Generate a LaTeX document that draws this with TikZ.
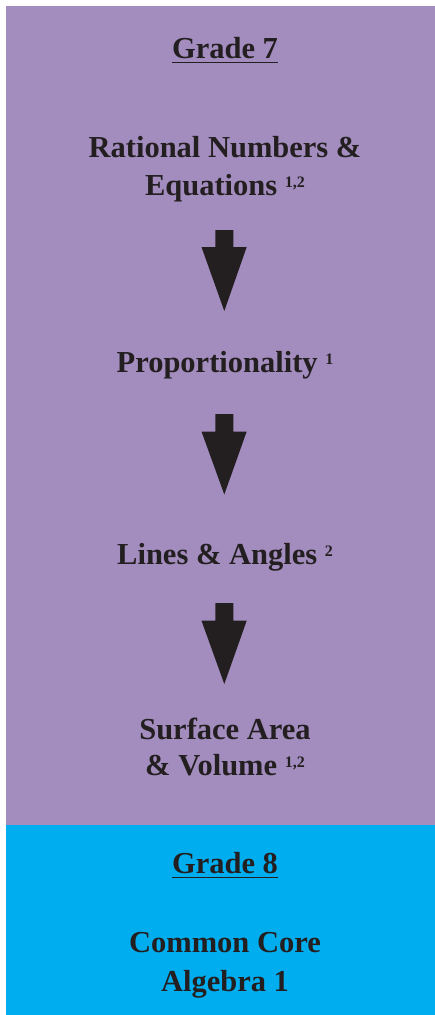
\documentclass[tikz,border=0pt]{standalone}
\usepackage{fontspec}
\setmainfont{Liberation Serif}
\definecolor{gradeseven}{RGB}{163,140,190}
\definecolor{gradeeight}{RGB}{0,174,239}
\definecolor{inkdark}{RGB}{35,31,32}
\newcommand{\supnum}[1]{\raisebox{8pt}{\fontsize{16}{16}\selectfont #1}}
\begin{document}
\begin{tikzpicture}[x=1pt,y=-1pt,
  label text/.style={anchor=base,inner sep=0pt,text=inkdark,font=\fontsize{30.5}{36}\selectfont\bfseries},
  blockarrow/.style={fill=inkdark,draw=none}]
\useasboundingbox (0,0) rectangle (435,1015);
\fill[white] (0,0) rectangle (435,1015);
\fill[gradeseven] (6,6) rectangle (435,825);
\fill[gradeeight] (6,825) rectangle (435,1015);
% texts
\node[label text] (g7) at (225,58) {Grade 7};
\draw[inkdark,line width=1.5pt] ([yshift=-4.5pt]g7.base west) -- ([yshift=-4.5pt]g7.base east);
\node[label text] (rn1) at (225,157) {Rational Numbers \&};
\node[label text] (rn2) at (225,195) {Equations \supnum{1,2}};
\node[label text] (pr) at (225,372) {Proportionality \supnum{1}};
\node[label text] (la) at (225,564) {Lines \& Angles \supnum{2}};
\node[label text] (sa1) at (225,739) {Surface Area};
\node[label text] (sa2) at (225,775) {\& Volume \supnum{1,2}};
\node[label text] (g8) at (225,873) {Grade 8};
\draw[inkdark,line width=1.5pt] ([yshift=-4.5pt]g8.base west) -- ([yshift=-4.5pt]g8.base east);
\node[label text] (cc1) at (225,952) {Common Core};
\node[label text] (cc2) at (225,991) {Algebra 1};
% block arrows
\foreach \t/\h/\p in {230/247/311, 414/431.5/494.5, 603/620.7/684}{
  \fill[blockarrow] (215.3,\t) -- (233.3,\t) -- (233.3,\h) -- (246.7,\h) -- (224.3,\p) -- (201.5,\h) -- (215.3,\h) -- cycle;
}
\end{tikzpicture}
\end{document}
